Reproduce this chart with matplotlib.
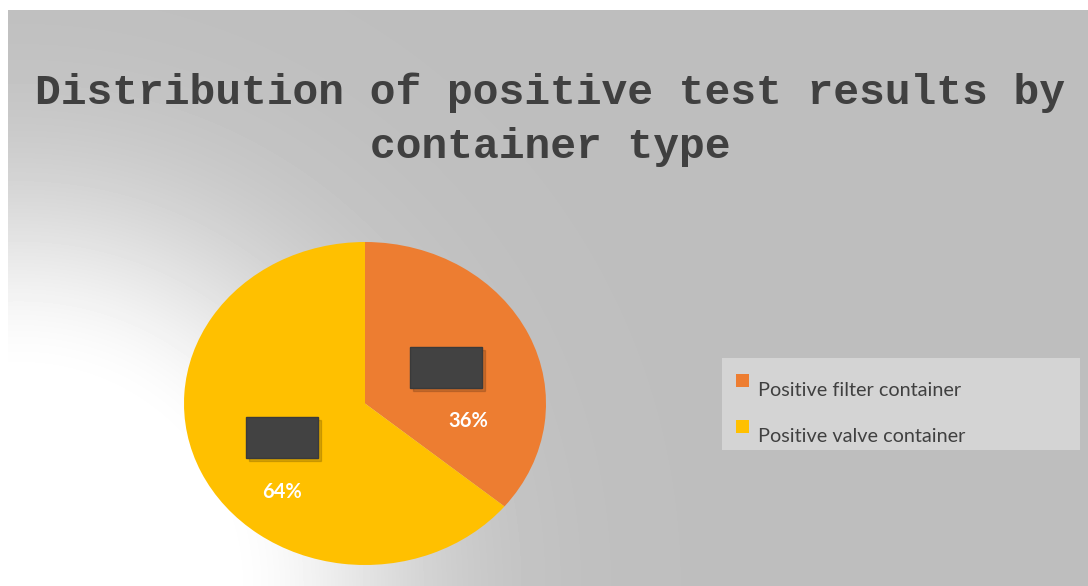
import numpy as np
import matplotlib.pyplot as plt
from matplotlib.patches import Rectangle

# datos
categorias = ["Positive filter container", "Positive valve container"]
porcentajes = [36, 64]
colores = ["#ed7d31", "#ffc000"]
titulo = "Distribution of positive test results by\ncontainer type"

W, H = 1088, 586
fig = plt.figure(figsize=(W / 100, H / 100), dpi=100)
fig.patch.set_facecolor("white")

# fondo con degradado radial (claro abajo a la izquierda)
bg = fig.add_axes([8 / W, 0, 1 - 8 / W, (H - 10) / H])
bg.set_axis_off()
yy, xx = np.mgrid[0:576, 0:1080]
d = np.hypot(xx - 10.0, yy - 576.0)
f = np.exp(-np.clip(d - 200, 0, None) ** 2 / (2 * 140 ** 2))
val = 0.745 + 0.255 * f
bg.imshow(val, cmap="gray", vmin=0, vmax=1, aspect="auto", interpolation="bilinear")

# pastel (elipse)
cx0, cx1, cy0, cy1 = 184, 546, 242, 565
ax = fig.add_axes([cx0 / W, (H - cy1) / H, (cx1 - cx0) / W, (cy1 - cy0) / H])
ax.set_axis_off()
ax.pie(porcentajes, colors=colores, startangle=90, counterclock=False,
       radius=1, frame=False)
ax.set_xlim(-1, 1)
ax.set_ylim(-1, 1)
ax.set_aspect("auto")

# etiquetas de porcentaje
ax.text(0.57, -0.11, "36%", color="white", fontsize=14.5, fontweight="bold",
        family="Lato", ha="center", va="center")
ax.text(-0.46, -0.55, "64%", color="white", fontsize=14.5, fontweight="bold",
        family="Lato", ha="center", va="center")

# cajas oscuras (etiquetas ocultas)
def caja(x, y):
    fig.patches.append(Rectangle(((x + 3) / W, (H - y - 41 - 3) / H), 72 / W, 41 / H,
                                 transform=fig.transFigure, color="#000000",
                                 alpha=0.15, zorder=5))
    fig.patches.append(Rectangle((x / W, (H - y - 41) / H), 72 / W, 41 / H,
                                 transform=fig.transFigure, facecolor="#424242",
                                 edgecolor="#3a3a3a", zorder=6))

caja(410, 347)
caja(246, 417)

# titulo
fig.text(550 / W, 1 - 120 / H, titulo, family="Liberation Mono", fontweight="bold",
         fontsize=31, color="#404040", ha="center", va="center", linespacing=1.45)

# leyenda
fig.patches.append(Rectangle((722 / W, (H - 450) / H), 358 / W, 92 / H,
                             transform=fig.transFigure, facecolor="#d4d4d4",
                             edgecolor="none", zorder=3))
for i, (cat, col) in enumerate(zip(categorias, colores)):
    ys = 381 + i * 46
    fig.patches.append(Rectangle((736 / W, (H - ys - 6) / H), 13 / W, 13 / H,
                                 transform=fig.transFigure, facecolor=col,
                                 edgecolor="none", zorder=4))
    fig.text(758 / W, 1 - (ys + 10) / H, cat, family="Lato", fontsize=14.3,
             color="#404040", ha="left", va="center", zorder=4)

fig.savefig("out.png", dpi=100)
